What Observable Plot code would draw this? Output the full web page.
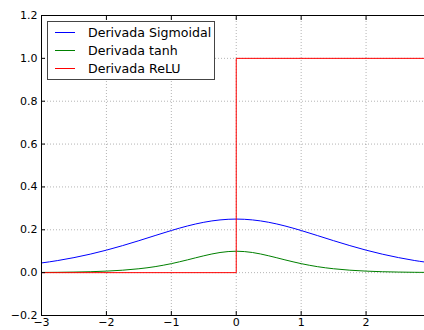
<!DOCTYPE html>
<html><head><meta charset="utf-8">
<script src="https://cdn.jsdelivr.net/npm/d3@7"></script>
<script src="https://cdn.jsdelivr.net/npm/@observablehq/plot@0.6"></script>
<style>
body{margin:0;background:#fff;}
#chart{position:relative;width:424px;height:330px;font-family:"DejaVu Sans",sans-serif;}
#legend{position:absolute;left:47px;top:21px;}
</style>
</head><body><div id="chart"></div>
<script>
const xs = [-3,-2.75,-2.5,-2.25,-2,-1.75,-1.5,-1.25,-1,-0.75,-0.5,-0.25,0,0.25,0.5,0.75,1,1.25,1.5,1.75,2,2.25,2.5,2.75,2.9];
const sigmoidDeriv = [0.0452,0.0564,0.0701,0.0862,0.1050,0.1262,0.1491,0.1731,0.1966,0.2179,0.2350,0.2461,0.25,0.2461,0.2350,0.2179,0.1966,0.1731,0.1491,0.1262,0.1050,0.0862,0.0701,0.0564,0.0497];
const tanhDeriv = [0.0010,0.0016,0.0027,0.0043,0.0071,0.0114,0.0181,0.0280,0.0420,0.0597,0.0786,0.0940,0.1,0.0940,0.0786,0.0597,0.0420,0.0280,0.0181,0.0114,0.0071,0.0043,0.0027,0.0016,0.0012];
const reluX = [-3,0,0,2.9];
const reluY = [0,0,1,1];
const xTicks = [-3,-2,-1,0,1,2];
const yTicks = [-0.2,0,0.2,0.4,0.6,0.8,1.0,1.2];
const seriesNames = ["Derivada Sigmoidal","Derivada tanh","Derivada ReLU"];
const seriesColors = ["#0000ff","#008000","#ff0000"];

const sig = xs.map((x,i)=>({x, y: sigmoidDeriv[i]}));
const th = xs.map((x,i)=>({x, y: tanhDeriv[i]}));
const relu = reluX.map((x,i)=>({x, y: reluY[i]}));
const fmtX = d => String(d).replace("-","\u2212");
const fmtY = d => d.toFixed(1).replace("-","\u2212");

const plot = Plot.plot({
  width: 424, height: 330,
  marginLeft: 41, marginRight: 0, marginTop: 15, marginBottom: 15,
  style: {fontFamily: '"DejaVu Sans", sans-serif', fontSize: "11px", color: "#000", background: "#fff", overflow: "visible"},
  x: {domain: [-3, 2.9], label: null},
  y: {domain: [-0.2, 1.2], label: null},
  marks: [
    Plot.gridX(xTicks, {stroke: "#000", strokeOpacity: 0.5, strokeWidth: 0.6, strokeDasharray: "1,2"}),
    Plot.gridY(yTicks, {stroke: "#000", strokeOpacity: 0.5, strokeWidth: 0.6, strokeDasharray: "1,2"}),
    Plot.line(sig, {x: "x", y: "y", stroke: seriesColors[0], strokeWidth: 1, curve: "monotone-x"}),
    Plot.line(th, {x: "x", y: "y", stroke: seriesColors[1], strokeWidth: 1, curve: "monotone-x"}),
    Plot.line(relu, {x: "x", y: "y", stroke: seriesColors[2], strokeWidth: 1}),
    Plot.axisX(xTicks, {anchor: "bottom", tickSize: -4, tickPadding: 7, tickFormat: fmtX, fill: "#000", stroke: "#000", fontSize: 11}),
    Plot.axisX(xTicks, {anchor: "top", tickSize: -4, tickFormat: () => "", stroke: "#000"}),
    Plot.axisY(yTicks, {anchor: "left", tickSize: -4, tickPadding: 8, tickFormat: fmtY, fill: "#000", stroke: "#000", fontSize: 11}),
    Plot.frame({stroke: "#000", strokeWidth: 1})
  ]
});
const chart = document.getElementById("chart");
chart.appendChild(plot);

const NS = "http://www.w3.org/2000/svg";
const lg = document.createElementNS(NS, "svg");
lg.setAttribute("id", "legend");
lg.setAttribute("width", 168);
lg.setAttribute("height", 59);
const box = document.createElementNS(NS, "rect");
box.setAttribute("x", 0.5); box.setAttribute("y", 0.5);
box.setAttribute("width", 167); box.setAttribute("height", 58);
box.setAttribute("fill", "#fff"); box.setAttribute("stroke", "#444");
lg.appendChild(box);
seriesNames.forEach((n,i)=>{
  const yy = 11.5 + i*18;
  const ln = document.createElementNS(NS, "line");
  ln.setAttribute("x1", 8); ln.setAttribute("x2", 28);
  ln.setAttribute("y1", yy); ln.setAttribute("y2", yy);
  ln.setAttribute("stroke", seriesColors[i]); ln.setAttribute("stroke-width", 1);
  lg.appendChild(ln);
  const t = document.createElementNS(NS, "text");
  t.setAttribute("x", 41); t.setAttribute("y", yy);
  t.setAttribute("dy", "0.35em");
  t.setAttribute("font-size", 12.6);
  t.setAttribute("font-family", '"DejaVu Sans", sans-serif');
  t.setAttribute("fill", "#000");
  t.textContent = n;
  lg.appendChild(t);
});
chart.appendChild(lg);
</script></body></html>
